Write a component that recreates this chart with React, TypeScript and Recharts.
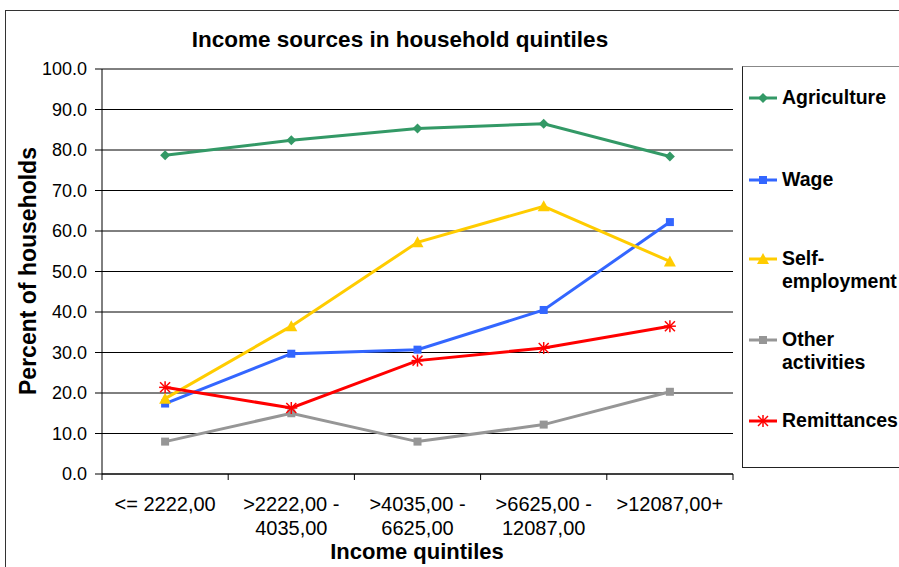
import React from 'react'
import { LineChart, Line, XAxis, YAxis, CartesianGrid, Legend } from 'recharts'

const categoryLines = [
  ['<= 2222,00'],
  ['>2222,00 -', '4035,00'],
  ['>4035,00 -', '6625,00'],
  ['>6625,00 -', '12087,00'],
  ['>12087,00+'],
]

const agriculture = [78.7, 82.4, 85.3, 86.5, 78.4]
const wage = [17.4, 29.7, 30.7, 40.5, 62.2]
const selfEmployment = [18.6, 36.5, 57.2, 66.1, 52.5]
const otherActivities = [8.0, 15.0, 8.0, 12.2, 20.3]
const remittances = [21.4, 16.3, 28.0, 31.1, 36.5]

const yTicks = [0, 10, 20, 30, 40, 50, 60, 70, 80, 90, 100]
// boundaries get a tick mark, centres get the label
const xTicks = [-0.5, 0, 0.5, 1, 1.5, 2, 2.5, 3, 3.5, 4, 4.5]

const FONT = '"Liberation Sans", Arial, sans-serif'

const data = categoryLines.map((_, i) => ({
  idx: i,
  agriculture: agriculture[i],
  wage: wage[i],
  selfEmployment: selfEmployment[i],
  otherActivities: otherActivities[i],
  remittances: remittances[i],
}))

type Shape = 'diamond' | 'square' | 'triangle' | 'star'

const series: { key: string; name: string[]; color: string; shape: Shape; top: number }[] = [
  { key: 'agriculture', name: ['Agriculture'], color: '#339966', shape: 'diamond', top: 31 },
  { key: 'wage', name: ['Wage'], color: '#3366FF', shape: 'square', top: 113 },
  { key: 'selfEmployment', name: ['Self-', 'employment'], color: '#FFCC00', shape: 'triangle', top: 192 },
  { key: 'otherActivities', name: ['Other', 'activities'], color: '#969696', shape: 'square', top: 273 },
  { key: 'remittances', name: ['Remittances'], color: '#FF0000', shape: 'star', top: 354 },
]

function marker(shape: Shape, cx: number, cy: number, color: string, key?: string | number) {
  if (shape === 'diamond') {
    return (
      <polygon key={key} points={`${cx},${cy - 5} ${cx + 5},${cy} ${cx},${cy + 5} ${cx - 5},${cy}`} fill={color} />
    )
  }
  if (shape === 'square') {
    return <rect key={key} x={cx - 4} y={cy - 4} width={8} height={8} fill={color} />
  }
  if (shape === 'triangle') {
    return <polygon key={key} points={`${cx},${cy - 6} ${cx + 6},${cy + 5} ${cx - 6},${cy + 5}`} fill={color} />
  }
  return (
    <g key={key} stroke={color} strokeWidth={1.5}>
      <line x1={cx - 6} y1={cy} x2={cx + 6} y2={cy} />
      <line x1={cx} y1={cy - 6} x2={cx} y2={cy + 6} />
      <line x1={cx - 5} y1={cy - 5} x2={cx + 5} y2={cy + 5} />
      <line x1={cx - 5} y1={cy + 5} x2={cx + 5} y2={cy - 5} />
    </g>
  )
}

function CategoryTick(props: any) {
  const { x, y, payload } = props
  const v = payload.value as number
  if (!Number.isInteger(v)) {
    return <line x1={x} y1={y} x2={x} y2={y + 6} stroke="#000" />
  }
  const lines = categoryLines[v] || []
  return (
    <text x={x} y={y + 37} textAnchor="middle" fontSize={20} fontFamily={FONT} fill="#000">
      {lines.map((l, i) => (
        <tspan key={i} x={x} dy={i === 0 ? 0 : 24}>
          {l}
        </tspan>
      ))}
    </text>
  )
}

function LegendBox() {
  return (
    <div
      style={{
        position: 'relative',
        width: 200,
        height: 402,
        border: '1px solid #222',
        borderTopColor: '#888',
        background: '#fff',
        fontFamily: FONT,
        fontWeight: 'bold',
        fontSize: 19.5,
        color: '#000',
        boxSizing: 'border-box',
      }}
    >
      {series.map((s) => (
        <div key={s.key} style={{ position: 'absolute', left: 5, top: s.top - 11, display: 'flex' }}>
          <svg width={30} height={22} style={{ flex: 'none' }}>
            <line x1={1} y1={11} x2={29} y2={11} stroke={s.color} strokeWidth={3} />
            {marker(s.shape, 15, 11, s.color)}
          </svg>
          <div style={{ marginLeft: 4, lineHeight: '23px', marginTop: -1 }}>
            {s.name.map((n, i) => (
              <div key={i}>{n}</div>
            ))}
          </div>
        </div>
      ))}
    </div>
  )
}

export default function App() {
  return (
    <div
      style={{
        position: 'absolute',
        left: 0,
        top: 0,
        width: 899,
        height: 567,
        overflow: 'hidden',
        background: '#fff',
        fontFamily: FONT,
      }}
    >
      <div
        style={{
          position: 'absolute',
          left: 5,
          top: 10,
          width: 1000,
          height: 700,
          border: '1px solid #333',
        }}
      />
      <div
        style={{
          position: 'absolute',
          left: 0,
          width: 800,
          top: 27,
          textAlign: 'center',
          fontWeight: 'bold',
          fontSize: 22.5,
        }}
      >
        Income sources in household quintiles
      </div>
      <div
        style={{
          position: 'absolute',
          left: 28,
          top: 271,
          transform: 'translate(-50%, -50%) rotate(-90deg)',
          whiteSpace: 'nowrap',
          fontWeight: 'bold',
          fontSize: 23,
        }}
      >
        Percent of households
      </div>
      <div
        style={{
          position: 'absolute',
          left: 0,
          width: 834,
          top: 539,
          textAlign: 'center',
          fontWeight: 'bold',
          fontSize: 22,
        }}
      >
        Income quintiles
      </div>
      <div style={{ position: 'absolute', left: 0, top: 0 }}>
        <LineChart
          width={899}
          height={567}
          data={data}
          margin={{ top: 69, right: 166, left: 42, bottom: 33 }}
        >
          <CartesianGrid vertical={false} stroke="#000" strokeWidth={1} />
          <XAxis
            dataKey="idx"
            type="number"
            domain={[-0.5, 4.5]}
            ticks={xTicks}
            interval={0}
            tick={<CategoryTick />}
            tickLine={false}
            tickSize={0}
            tickMargin={0}
            height={60}
            axisLine={{ stroke: '#000' }}
          />
          <YAxis
            domain={[0, 100]}
            ticks={yTicks}
            width={60}
            tickSize={7}
            tickMargin={8}
            tickFormatter={(v: number) => v.toFixed(1)}
            tick={{ fontSize: 18, fontFamily: FONT, fill: '#000' }}
            axisLine={{ stroke: '#000' }}
            tickLine={{ stroke: '#000' }}
          />
          <Legend
            layout="horizontal"
            verticalAlign="middle"
            align="center"
            content={() => <LegendBox />}
            wrapperStyle={{ position: 'absolute', left: 742, top: 66, width: 200, height: 402 }}
          />
          {series.map((s) => (
            <Line
              key={s.key}
              dataKey={s.key}
              name={s.name.join(' ')}
              type="linear"
              stroke={s.color}
              strokeWidth={3}
              isAnimationActive={false}
              dot={(p: any) => marker(s.shape, p.cx, p.cy, s.color, `${s.key}-${p.index}`)}
              activeDot={false}
            />
          ))}
        </LineChart>
      </div>
    </div>
  )
}
